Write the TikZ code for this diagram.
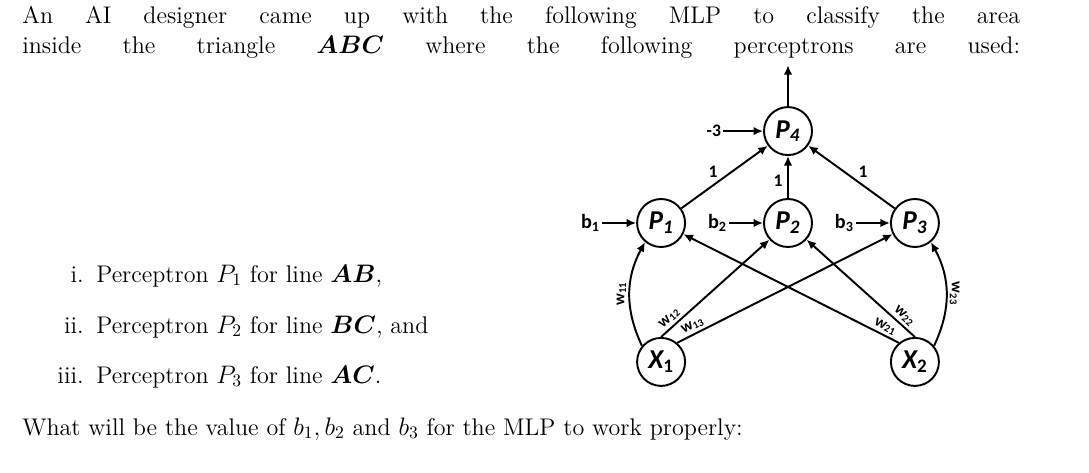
\documentclass[tikz,border=0pt]{standalone}
\usepackage{amsmath,bm}
\usepackage{fontspec}
\usepackage{tikz}
\usetikzlibrary{arrows.meta, positioning}
\newfontfamily\diagfont{Carlito}

\begin{document}
\begin{tikzpicture}[
  x=0.02cm, y=-0.02cm,
  font=\fontsize{13.7}{16}\selectfont,
  neuron/.style={circle, draw, line width=1.1pt, minimum size=0.96cm, inner sep=0pt,
                 font=\diagfont\fontsize{15.5}{15.5}\selectfont\bfseries\itshape},
  bias/.style={inner sep=1pt, font=\diagfont\fontsize{11.5}{11.5}\selectfont\bfseries},
  num/.style={inner sep=1pt, font=\diagfont\fontsize{10}{10}\selectfont\bfseries},
  weight/.style={inner sep=1.5pt, font=\diagfont\fontsize{9}{9}\selectfont\bfseries},
  arrow/.style={-{Latex[length=1.9mm, width=1.7mm]}, line width=1.1pt}
]
\useasboundingbox (0,0) rectangle (1089,473);

\node[anchor=base west, inner sep=0] (line1) at (22,24)
  {\makebox[19.96cm][s]{An AI designer came up with the following MLP to classify the area}};
\node[anchor=base west, inner sep=0] (line2) at (22,54)
  {\makebox[19.96cm][s]{inside the triangle $\bm{ABC}$ where the following perceptrons are used:}};

\node[anchor=base east, inner sep=0] (lab1) at (84,282) {i.};
\node[anchor=base west, inner sep=0] (item1) at (96,282) {Perceptron $P_1$ for line $\bm{AB}$,};
\node[anchor=base east, inner sep=0] (lab2) at (84,333) {ii.};
\node[anchor=base west, inner sep=0] (item2) at (96,333) {Perceptron $P_2$ for line $\bm{BC}$, and};
\node[anchor=base east, inner sep=0] (lab3) at (84,383) {iii.};
\node[anchor=base west, inner sep=0] (item3) at (96,383) {Perceptron $P_3$ for line $\bm{AC}$.};
\node[anchor=base west, inner sep=0] (question) at (22,435)
  {What will be the value of $b_1, b_2$ and $b_3$ for the MLP to work properly:};

\node[neuron] (p2) at (788,223) {P\textsubscript{2}};
\node[neuron, left=1.54cm of p2] (p1) {P\textsubscript{1}};
\node[neuron, right=1.54cm of p2] (p3) {P\textsubscript{3}};
\node[neuron, above=0.84cm of p2] (p4) {P\textsubscript{4}};
\node[neuron, below=1.78cm of p1] (x1) {X\textsubscript{\upshape 1}};
\node[neuron, below=1.78cm of p3] (x2) {X\textsubscript{\upshape 2}};
\coordinate[above=0.82cm of p4] (out);

\node[bias, left=0.68cm of p1] (b1) {b\textsubscript{1}};
\node[bias, left=0.68cm of p2] (b2) {b\textsubscript{2}};
\node[bias, left=0.68cm of p3] (b3) {b\textsubscript{3}};
\node[num, left=0.8cm of p4] (bias4) {-3};

\draw[arrow] (p4) -- (out);
\draw[arrow] (bias4) -- (p4);
\draw[arrow] (b1) -- (p1);
\draw[arrow] (b2) -- (p2);
\draw[arrow] (b3) -- (p3);
\draw[arrow] (p1) -- node[num, pos=0.45, above left=0pt] {1} (p4);
\draw[arrow] (p2) -- node[num, pos=0.4, left=1.5pt] {1} (p4);
\draw[arrow] (p3) -- node[num, pos=0.45, above right=0pt] {1} (p4);

\draw[arrow] (x1.140) to[bend left=27]
  node[weight, midway, anchor=south, rotate=90] {w\textsubscript{11}} (p1.230);
\draw[arrow] (x1.north) -- node[weight, pos=0.13, sloped, above] {w\textsubscript{12}} (p2);
\draw[arrow] (x1.50) -- node[weight, pos=0.09, sloped, above] {w\textsubscript{13}} (p3);
\draw[arrow] (x2.130) -- node[weight, pos=0.08, sloped, above] {w\textsubscript{21}} (p1);
\draw[arrow] (x2.north) -- node[weight, pos=0.15, sloped, above] {w\textsubscript{22}} (p2);
\draw[arrow] (x2.40) to[bend right=27]
  node[weight, midway, anchor=south, rotate=-90] {w\textsubscript{23}} (p3.310);
\end{tikzpicture}
\end{document}
